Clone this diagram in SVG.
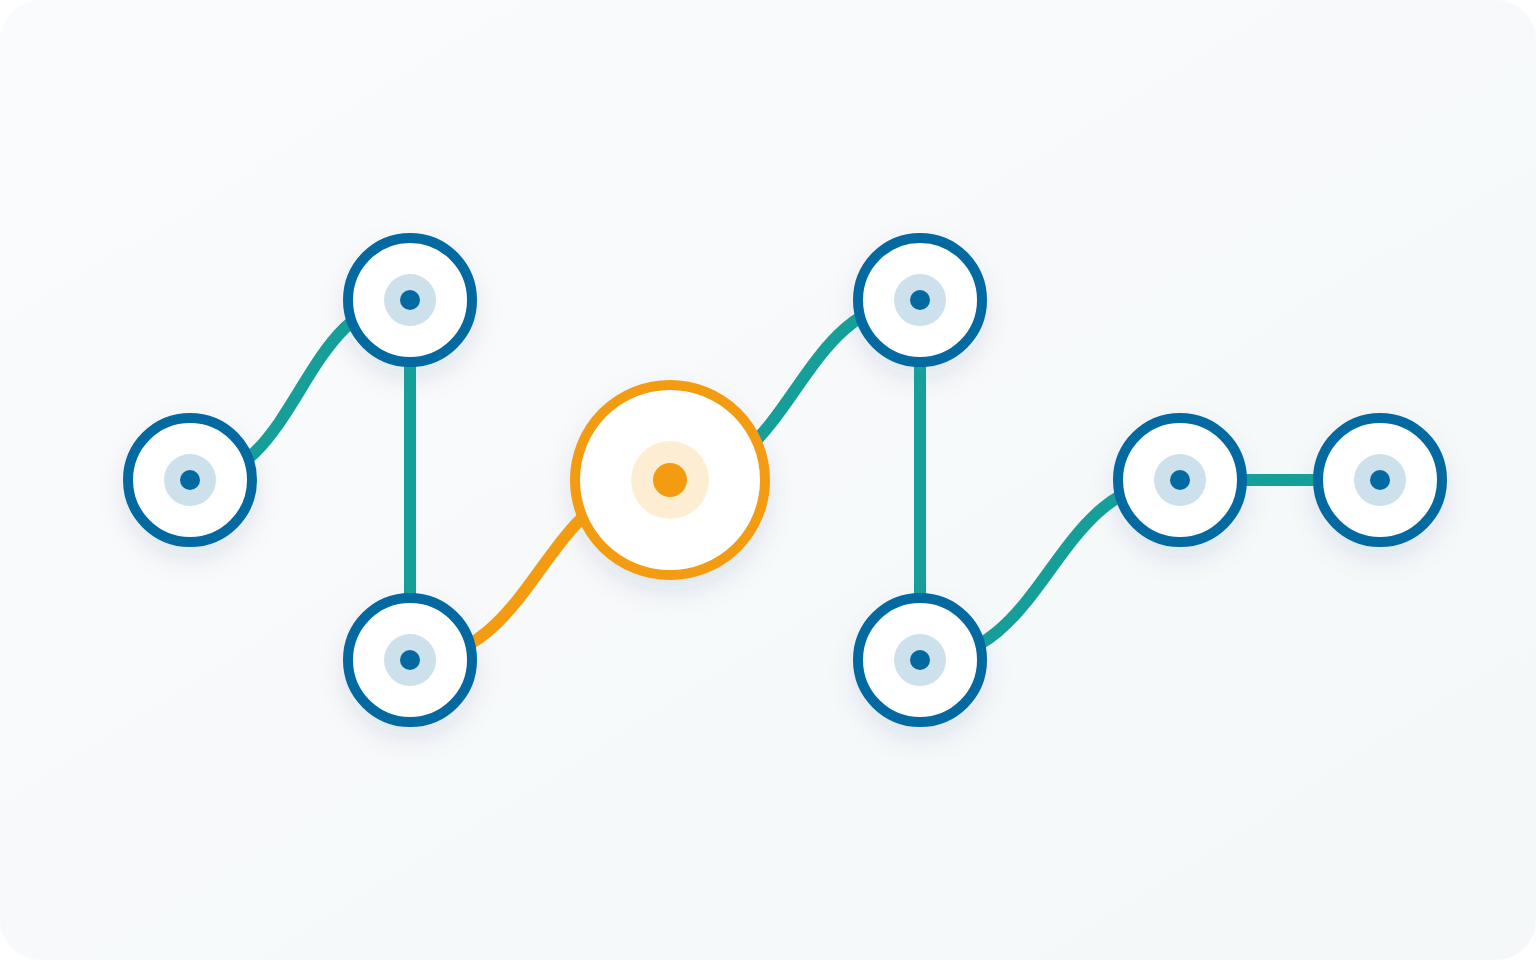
<svg xmlns="http://www.w3.org/2000/svg" width="1536" height="960" viewBox="0 0 1536 960">
  <defs>
    <linearGradient id="bg" x1="0" y1="0" x2="1" y2="1">
      <stop offset="0" stop-color="#fafbfc"/>
      <stop offset="1" stop-color="#f4f8f9"/>
    </linearGradient>
    <filter id="blur" x="-60%" y="-60%" width="220%" height="220%">
      <feGaussianBlur stdDeviation="14"/>
    </filter>
    <style>
      .link { fill: none; stroke: #169e98; stroke-width: 12; }
      .link.hot { stroke: #f39c12; }
      .shadow { fill: #1e3a5f; fill-opacity: 0.12; filter: url(#blur); }
      .ring { fill: #ffffff; stroke: #0369a1; stroke-width: 10; }
      .halo { fill: #0369a1; fill-opacity: 0.2; }
      .dot { fill: #0369a1; }
      .ring.hot { stroke: #f39c12; }
      .halo.hot { fill: #f59e0b; fill-opacity: 0.18; }
      .dot.hot { fill: #f39c12; }
    </style>
  </defs>
  <rect x="0" y="0" width="1536" height="960" fill="#ffffff"/>
  <rect x="0" y="0" width="1536" height="960" rx="40" ry="40" fill="url(#bg)"/>

  <g id="shadows">
    <circle class="shadow" cx="190" cy="492" r="64"/>
    <circle class="shadow" cx="410" cy="312" r="64"/>
    <circle class="shadow" cx="410" cy="672" r="64"/>
    <circle class="shadow" cx="670" cy="492" r="97"/>
    <circle class="shadow" cx="920" cy="312" r="64"/>
    <circle class="shadow" cx="920" cy="672" r="64"/>
    <circle class="shadow" cx="1180" cy="492" r="64"/>
    <circle class="shadow" cx="1380" cy="492" r="64"/>
  </g>

  <g id="connectors">
    <path class="link" d="M190,480 C300,480 300,300 410,300"/>
    <path class="link" d="M410,300 L410,660"/>
    <path class="link hot" d="M410,660 C540,660 540,480 670,480"/>
    <path class="link" d="M670,480 C795,480 795,300 920,300"/>
    <path class="link" d="M920,300 L920,660"/>
    <path class="link" d="M920,660 C1050,660 1050,480 1180,480"/>
    <path class="link" d="M1180,480 L1380,480"/>
  </g>

  <g id="node-1">
    <circle class="ring" cx="190" cy="480" r="62"/>
    <circle class="halo" cx="190" cy="480" r="26"/>
    <circle class="dot" cx="190" cy="480" r="10"/>
  </g>
  <g id="node-2">
    <circle class="ring" cx="410" cy="300" r="62"/>
    <circle class="halo" cx="410" cy="300" r="26"/>
    <circle class="dot" cx="410" cy="300" r="10"/>
  </g>
  <g id="node-3">
    <circle class="ring" cx="410" cy="660" r="62"/>
    <circle class="halo" cx="410" cy="660" r="26"/>
    <circle class="dot" cx="410" cy="660" r="10"/>
  </g>
  <g id="node-hub">
    <circle class="ring hot" cx="670" cy="480" r="95"/>
    <circle class="halo hot" cx="670" cy="480" r="39"/>
    <circle class="dot hot" cx="670" cy="480" r="17"/>
  </g>
  <g id="node-4">
    <circle class="ring" cx="920" cy="300" r="62"/>
    <circle class="halo" cx="920" cy="300" r="26"/>
    <circle class="dot" cx="920" cy="300" r="10"/>
  </g>
  <g id="node-5">
    <circle class="ring" cx="920" cy="660" r="62"/>
    <circle class="halo" cx="920" cy="660" r="26"/>
    <circle class="dot" cx="920" cy="660" r="10"/>
  </g>
  <g id="node-6">
    <circle class="ring" cx="1180" cy="480" r="62"/>
    <circle class="halo" cx="1180" cy="480" r="26"/>
    <circle class="dot" cx="1180" cy="480" r="10"/>
  </g>
  <g id="node-7">
    <circle class="ring" cx="1380" cy="480" r="62"/>
    <circle class="halo" cx="1380" cy="480" r="26"/>
    <circle class="dot" cx="1380" cy="480" r="10"/>
  </g>
</svg>
